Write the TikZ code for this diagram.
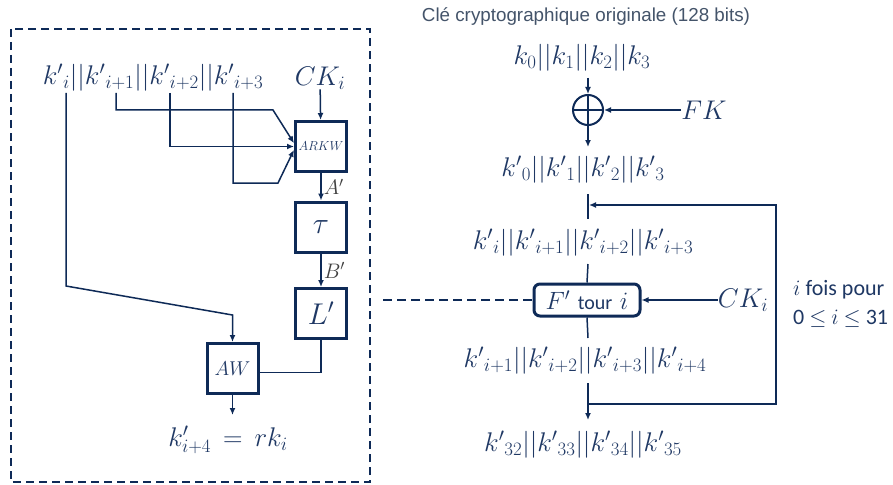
\documentclass[tikz,border=0pt]{standalone}
\usepackage{fix-cm}
\usepackage{fontspec}
\newfontfamily\arialf{Liberation Sans}
\newfontfamily\calf{Carlito}
\usetikzlibrary{arrows.meta}
\definecolor{navy}{HTML}{1F3864}
\definecolor{dnavy}{HTML}{0E2A57}
\definecolor{titlec}{HTML}{44546A}
\definecolor{labc}{HTML}{404040}
\tikzset{
  ln/.style={draw=dnavy, line width=1.5pt},
  arr/.style={ln, -{Latex[length=7pt,width=6pt]}},
  blk/.style={draw=dnavy, line width=3pt, minimum width=51pt, minimum height=50pt, inner sep=0pt, text=navy},
  mt/.style={text=navy, font=\fontsize{27}{31}\selectfont, inner sep=0pt},
  lbl/.style={text=labc, font=\fontsize{21}{24}\selectfont, inner sep=2pt},
  dbox/.style={draw=dnavy, line width=2pt, dash pattern=on 8pt off 5pt},
  side/.style={text=navy, font=\calf\fontsize{22}{24}\selectfont, inner sep=0pt, anchor=west},
}
\begin{document}
\begin{tikzpicture}[x=1pt,y=-1pt]
\useasboundingbox[fill=white] (0,0) rectangle (893,484);
% ---------- left: detail of round function ----------
\draw[dbox] (11,29) rectangle (370,482);
\node[mt] (kl) at (153,78) {${k'}_{i}||{k'}_{i+1}||{k'}_{i+2}||{k'}_{i+3}$};
\node[mt] (CKl) at (320,78) {$CK_i$};
\node[blk] (ARKW) at (321,146.5) {\fontsize{13}{15}\selectfont$ARKW$};
\node[blk] (tau) at (321,227) {\fontsize{30}{34}\selectfont$\tau$};
\node[blk] (Lp) at (321,313.5) {\fontsize{30}{34}\selectfont$L'$};
\node[blk] (AW) at (232.5,368.5) {\fontsize{20}{24}\selectfont$AW$};
\node[mt] (outl) at (228,440) {${k'_{i+4}}\,=\,rk_i$};
\coordinate (s0) at (66,93);
\coordinate (s1) at (116,93);
\coordinate (s2) at (170,93);
\coordinate (s3) at (233,93);
\coordinate (b0) at (66,286);
\coordinate (b1) at (232.5,315);
\coordinate (r1) at (116,110);
\coordinate (r1b) at (273,110);
\coordinate (r3) at (233,183);
\coordinate (r3b) at (278,183);
\coordinate (awo) at (232.5,415);
\draw[arr] (s0) -- (b0) -- (b1) -- (AW.north);
\draw[arr] (s1) -- (r1) -- (r1b) -- (ARKW.173);
\draw[arr] (s2) |- (ARKW.west);
\draw[arr] (s3) -- (r3) -- (r3b) -- (ARKW.187);
\draw[arr] (CKl) -- (ARKW);
\draw[arr] (ARKW) -- (tau) node[lbl, midway, right] {$A'$};
\draw[arr] (tau) -- (Lp) node[lbl, midway, right] {$B'$};
\draw[ln] (Lp.south) |- ([yshift=-4pt]AW.east);
\draw[arr] (AW) -- (awo);
% ---------- right: key schedule ----------
\node[text=titlec, font=\arialf\fontsize{18.8}{22}\selectfont, inner sep=0pt] (tt) at (586,17) {Clé cryptographique originale (128 bits)};
\node[mt] (k0) at (582,58) {$k_0||k_1||k_2||k_3$};
\node[circle, draw=dnavy, line width=2pt, minimum size=30pt, inner sep=0pt] (xr) at (588,110) {};
\draw[dnavy, line width=1.5pt] (xr.north) -- (xr.south) (xr.west) -- (xr.east);
\node[mt] (FK) at (704,110) {$FK$};
\node[mt] (kp0) at (583,170) {${k'}_{0}||{k'}_{1}||{k'}_{2}||{k'}_{3}$};
\node[mt] (ki) at (583,243) {${k'}_{i}||{k'}_{i+1}||{k'}_{i+2}||{k'}_{i+3}$};
\node[draw=dnavy, line width=3pt, rounded corners=6pt, minimum width=106pt, minimum height=32pt, inner sep=0pt, text=navy] (Fb) at (587,300)
  {\fontsize{25}{28}\selectfont$F'$\ {\calf\fontsize{20}{24}\selectfont tour} $i$};
\node[mt] (CKr) at (743,300) {$CK_i$};
\node[mt] (ki1) at (585,361) {${k'}_{i+1}||{k'}_{i+2}||{k'}_{i+3}||{k'}_{i+4}$};
\node[mt] (k32) at (583,445) {${k'}_{32}||{k'}_{33}||{k'}_{34}||{k'}_{35}$};
\node[side] (fois) at (793,290) {$i$ fois pour};
\node[side] (rng) at (793,319) {0 $\leq$ $i$ $\leq$ 31};
\coordinate (c1) at (588,78);
\coordinate (c2) at (588,147);
\coordinate (t1) at (588,194);
\coordinate (t2) at (588,219);
\coordinate (t3) at (588,264);
\coordinate (t4) at (588,338);
\coordinate (t5) at (588,383);
\coordinate (t6) at (588,420);
\coordinate (lt) at (589,205);
\coordinate (ltr) at (776,205);
\coordinate (lbr) at (776,404);
\coordinate (lb) at (588,404);
\coordinate (dl) at (383,300);
\draw[arr] (c1) -- (xr.north);
\draw[arr] (xr.south) -- (c2);
\draw[arr] (FK.west) -- (xr.east);
\draw[ln] (t1) -- (t2);
\draw[arr] (lb) -- (lbr) -- (ltr) -- (lt);
\draw[ln] (t3) -- (Fb.north);
\draw[ln] (Fb.south) -- (t4);
\draw[arr] (t5) -- (t6);
\draw[ln, dash pattern=on 9pt off 5pt] (dl) -- (Fb.west);
\draw[arr] (CKr.west) -- (Fb.east);
\end{tikzpicture}
\end{document}
